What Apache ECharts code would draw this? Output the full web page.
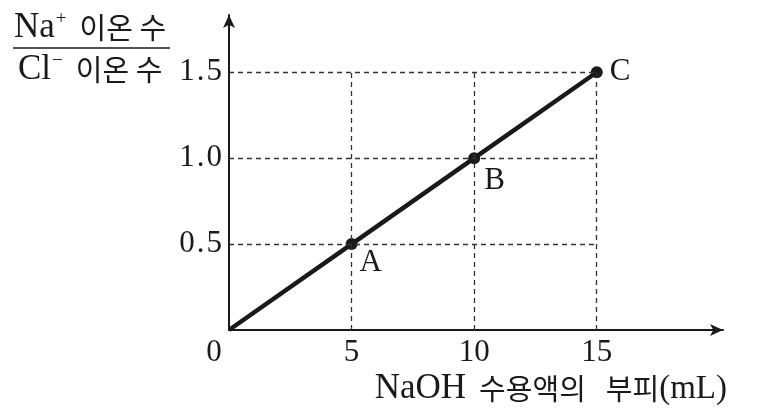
<!DOCTYPE html>
<html><head><meta charset="utf-8">
<script src="https://cdn.jsdelivr.net/npm/echarts@6/dist/echarts.min.js"></script>
<style>html,body{margin:0;padding:0;background:#fff}#c{width:771px;height:417px}</style>
</head><body><div id="c"></div>
<script>
// ---- data ----
const naohVolume = [0, 5, 10, 15];          // mL
const ionRatio = [0, 0.5, 1.0, 1.5];         // Na+ / Cl-
const pointNames = ['', 'A', 'B', 'C'];
const xTicks = [0, 5, 10, 15];
const yTicks = [0.5, 1.0, 1.5];

// ---- styles ----
const serif = '"Liberation Serif", "DejaVu Serif", serif';
const kr = '"Noto Sans CJK KR", "Noto Sans CJK SC", sans-serif';
const ink = '#1a1a1a';
const labelOffsets = { A: [0, 19], B: [2, 23], C: [5, 0] };

const X_MAX = 20.15, Y_MAX = 1.833;
const guideXMax = Math.max(...naohVolume);
const guideYMax = Math.max(...ionRatio);

const guides = [];
xTicks.filter(v => v > 0).forEach(v => guides.push([{ coord: [v, 0] }, { coord: [v, guideYMax] }]));
yTicks.forEach(v => guides.push([{ coord: [0, v] }, { coord: [guideXMax, v] }]));

const lineData = naohVolume.map((x, i) => {
  const name = pointNames[i];
  return {
    value: [x, ionRatio[i]],
    symbolSize: name ? 12 : 0,
    label: {
      show: !!name,
      formatter: name,
      position: 'right',
      distance: 2,
      offset: labelOffsets[name] || [0, 0],
      fontFamily: serif,
      fontSize: 31,
      color: ink
    }
  };
});

const chart = echarts.init(document.getElementById('c'), null, { renderer: 'canvas' });
chart.setOption({
  backgroundColor: '#fff',
  animation: false,
  grid: { left: 229, right: 48, top: 15, bottom: 87, containLabel: false, outerBoundsMode: 'none' },
  xAxis: {
    type: 'value', min: 0, max: X_MAX, interval: 5,
    axisLine: { show: true, symbol: ['none', 'arrow'], symbolSize: [9, 13], lineStyle: { color: ink, width: 2 } },
    axisTick: { show: false },
    splitLine: { show: false },
    axisLabel: {
      showMinLabel: true, showMaxLabel: false,
      margin: 7, color: ink, fontFamily: serif, fontSize: 31,
      formatter: v => v === 0 ? '{z|0}' : (xTicks.indexOf(v) >= 0 ? String(v) : ''),
      rich: { z: { padding: [0, 30, 0, 0], fontFamily: serif, fontSize: 31, color: ink } }
    }
  },
  yAxis: {
    type: 'value', min: 0, max: Y_MAX, interval: 0.5,
    axisLine: { show: true, symbol: ['none', 'arrow'], symbolSize: [9, 13], lineStyle: { color: ink, width: 2 } },
    axisTick: { show: false },
    splitLine: { show: false },
    axisLabel: {
      showMaxLabel: false,
      margin: 7, color: ink, fontFamily: serif, fontSize: 31,
      formatter: v => {
        if (yTicks.indexOf(v) < 0) return '';
        const t = v.toFixed(1).split('.');
        return t[0] + '{d|.}' + t[1];
      },
      rich: { d: { padding: [0, 2, 0, 2], fontFamily: serif, fontSize: 31, color: ink } }
    }
  },
  series: [
    {
      type: 'line', data: [], z: 1, silent: true,
      markLine: {
        silent: true, symbol: ['none', 'none'], animation: false,
        label: { show: false },
        lineStyle: { type: [5, 4], color: '#333', width: 1.3 },
        data: guides
      }
    },
    {
      type: 'line', z: 3,
      data: lineData,
      symbol: 'circle',
      lineStyle: { color: ink, width: 4.5 },
      itemStyle: { color: ink },
      showAllSymbol: true
    }
  ],
  graphic: [
    {
      type: 'text', x: 14, y: 28,
      style: {
        text: '{s|Na}{p|+}{k|이온 수}',
        verticalAlign: 'middle',
        rich: {
          s: { fontFamily: serif, fontSize: 35, fill: ink, lineHeight: 36 },
          p: { fontFamily: serif, fontSize: 19, fill: ink, verticalAlign: 'top', lineHeight: 36, padding: [0, 0, 0, 1] },
          k: { fontFamily: kr, fontSize: 29, fill: ink, lineHeight: 36, padding: [0, 0, 0, 13] }
        }
      }
    },
    { type: 'line', shape: { x1: 13, y1: 48, x2: 170, y2: 48 }, style: { stroke: ink, lineWidth: 1.5 } },
    {
      type: 'text', x: 18, y: 70,
      style: {
        text: '{s|Cl}{p|−}{k|이온 수}',
        verticalAlign: 'middle',
        rich: {
          s: { fontFamily: serif, fontSize: 35, fill: ink, lineHeight: 36 },
          p: { fontFamily: serif, fontSize: 19, fill: ink, verticalAlign: 'top', lineHeight: 36, padding: [0, 0, 0, 1] },
          k: { fontFamily: kr, fontSize: 29, fill: ink, lineHeight: 36, padding: [0, 0, 0, 13] }
        }
      }
    },
    {
      type: 'text', x: 727, y: 389,
      style: {
        text: '{s|NaOH}{k|수용액의}{k2|부피}{m|(mL)}',
        align: 'right', verticalAlign: 'middle',
        rich: {
          s: { fontFamily: serif, fontSize: 35, fill: ink },
          m: { fontFamily: serif, fontSize: 33, fill: ink },
          k: { fontFamily: kr, fontSize: 29, fill: ink, padding: [0, 0, 0, 13] },
          k2: { fontFamily: kr, fontSize: 29, fill: ink, padding: [0, 0, 0, 20] }
        }
      }
    }
  ]
});
</script></body></html>
